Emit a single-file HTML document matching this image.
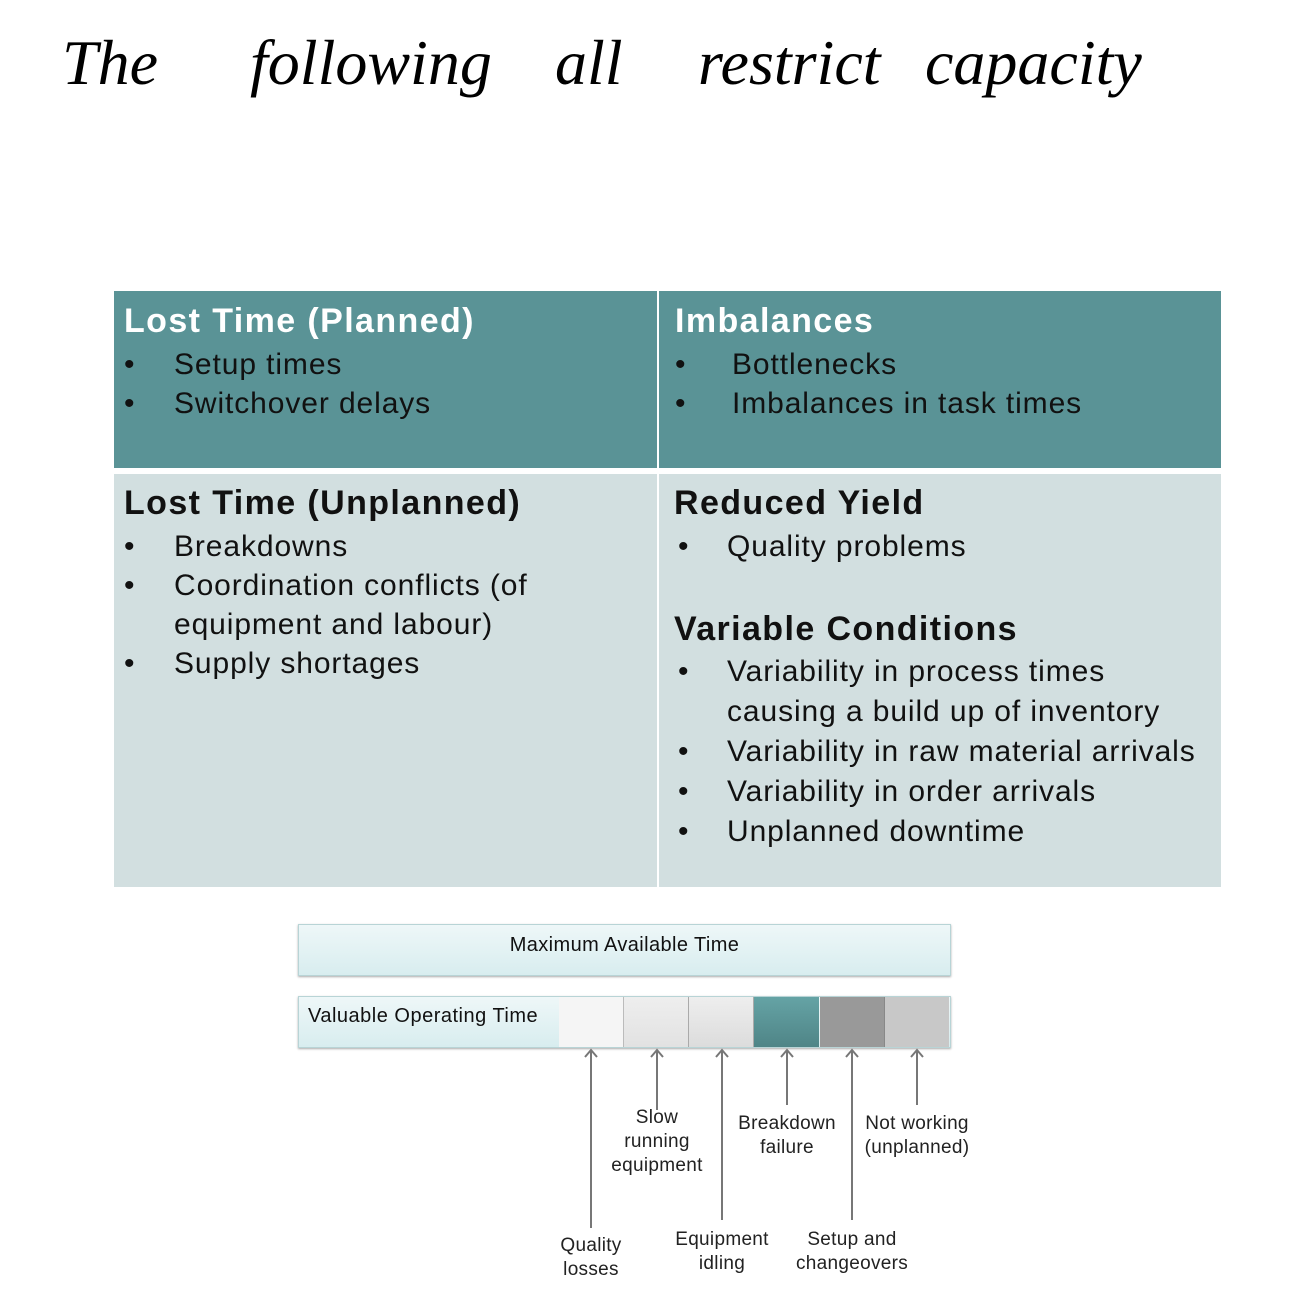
<html><head><style>
body{margin:0;width:1289px;height:1304px;background:#fff;position:relative;font-family:"Liberation Sans",Arial,sans-serif;overflow:hidden}
.a{position:absolute}
.w{position:absolute;top:26px;font-family:'Liberation Serif',serif;font-style:italic;font-size:64px;color:#000;white-space:nowrap}
.h{font-weight:bold;font-size:34px;letter-spacing:1.4px}
.t{font-size:30px;color:#111;letter-spacing:0.9px}
.lbl{position:absolute;font-size:19px;color:#222;text-align:center;line-height:24px;width:140px;letter-spacing:0.3px}
</style></head><body>
<div class="w" style="left:62px">The</div>
<div class="w" style="left:250px">following</div>
<div class="w" style="left:555px">all</div>
<div class="w" style="left:698px">restrict</div>
<div class="w" style="left:925px">capacity</div>

<div class="a" style="left:114px;top:291px;width:543px;height:177px;background:#5a9396"></div>
<div class="a" style="left:659px;top:291px;width:562px;height:177px;background:#5a9396"></div>
<div class="a" style="left:114px;top:474px;width:543px;height:413px;background:#d2dfe0"></div>
<div class="a" style="left:659px;top:474px;width:562px;height:413px;background:#d2dfe0"></div>

<div class="a h" style="left:124px;top:302px;color:#fff">Lost Time (Planned)</div>
<div class="a t" style="left:124px;top:345px;line-height:39px">•<br>•</div>
<div class="a t" style="left:174px;top:345px;line-height:39px">Setup times<br>Switchover delays</div>

<div class="a h" style="left:675px;top:302px;color:#fff">Imbalances</div>
<div class="a t" style="left:675px;top:345px;line-height:39px">•<br>•</div>
<div class="a t" style="left:732px;top:345px;line-height:39px">Bottlenecks<br>Imbalances in task times</div>

<div class="a h" style="left:124px;top:484px;color:#111">Lost Time (Unplanned)</div>
<div class="a t" style="left:124px;top:527px;line-height:39px">•<br>•<br><br>•</div>
<div class="a t" style="left:174px;top:527px;line-height:39px">Breakdowns<br>Coordination conflicts (of<br>equipment and labour)<br>Supply shortages</div>

<div class="a h" style="left:674px;top:484px;color:#111">Reduced Yield</div>
<div class="a t" style="left:678px;top:527px;line-height:39px">•</div>
<div class="a t" style="left:727px;top:527px;line-height:39px">Quality problems</div>
<div class="a h" style="left:674px;top:610px;color:#111">Variable Conditions</div>
<div class="a t" style="left:678px;top:652px;line-height:40px">•<br><br>•<br>•<br>•</div>
<div class="a t" style="left:727px;top:652px;line-height:40px;white-space:nowrap">Variability in process times<br>causing a build up of inventory<br>Variability in raw material arrivals<br>Variability in order arrivals<br>Unplanned downtime</div>

<div class="a" style="left:298px;top:924px;width:651px;height:50px;border:1px solid #b8d4d6;background:linear-gradient(#eef7f8,#d8edef);box-shadow:0 1px 2px #aaa;text-align:center;line-height:40px;font-size:20px;color:#111;letter-spacing:0.4px">Maximum Available Time</div>
<div class="a" style="left:298px;top:996px;width:651px;height:50px;border:1px solid #b8d4d6;background:linear-gradient(#eef7f8,#d8edef);box-shadow:0 1px 2px #aaa"></div>
<div class="a" style="left:308px;top:1005px;font-size:20px;color:#111;letter-spacing:0.5px">Valuable Operating Time</div>
<div class="a" style="left:559px;top:997px;width:64px;height:50px;background:#f5f5f5;border-right:1px solid #bbb"></div>
<div class="a" style="left:624px;top:997px;width:64px;height:50px;background:linear-gradient(#eee,#e2e2e2);border-right:1px solid #aaa"></div>
<div class="a" style="left:689px;top:997px;width:64px;height:50px;background:linear-gradient(#eee,#dcdcdc);border-right:1px solid #aaa"></div>
<div class="a" style="left:754px;top:997px;width:65px;height:50px;background:linear-gradient(#65a3a5,#4f8587)"></div>
<div class="a" style="left:820px;top:997px;width:64px;height:50px;background:#999;border-right:1px solid #888"></div>
<div class="a" style="left:885px;top:997px;width:64px;height:50px;background:#c8c8c8"></div>

<svg class="a" style="left:0;top:0" width="1289" height="1304">
<g stroke="#777" stroke-width="2" fill="none">
<path d="M591 1050V1228M585 1057L591 1050L597 1057"/>
<path d="M657 1050V1110M651 1057L657 1050L663 1057"/>
<path d="M722 1050V1220M716 1057L722 1050L728 1057"/>
<path d="M787 1050V1105M781 1057L787 1050L793 1057"/>
<path d="M852 1050V1220M846 1057L852 1050L858 1057"/>
<path d="M917 1050V1105M911 1057L917 1050L923 1057"/>
</g></svg>
<div class="lbl" style="left:521px;top:1234px">Quality<br>losses</div>
<div class="lbl" style="left:587px;top:1106px">Slow<br>running<br>equipment</div>
<div class="lbl" style="left:652px;top:1228px">Equipment<br>idling</div>
<div class="lbl" style="left:717px;top:1112px">Breakdown<br>failure</div>
<div class="lbl" style="left:782px;top:1228px">Setup and<br>changeovers</div>
<div class="lbl" style="left:847px;top:1112px">Not working<br>(unplanned)</div>
</body></html>
